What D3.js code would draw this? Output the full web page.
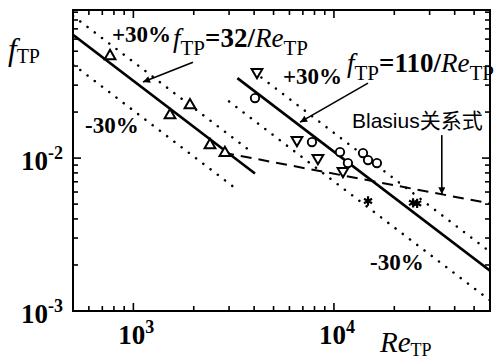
<!DOCTYPE html>
<html>
<head>
<meta charset="utf-8">
<script src="https://cdn.jsdelivr.net/npm/d3@7"></script>
<style>
body { margin: 0; background: #fff; }
svg { display: block; }
</style>
</head>
<body>
<svg id="chart"></svg>
<script>
// axes
const xDomain = [500, 60000];
const yDomain = [1e-3, 0.093];
const xMajor = [1e3, 1e4];
const xMajorExp = ['3', '4'];
const yMajor = [1e-3, 1e-2];
const yMajorExp = ['-3', '-2'];

// measured points (Re, f)
const reUp = [765, 1523, 1915, 2410, 2860];
const fUp = [0.0465, 0.0191, 0.0222, 0.01217, 0.0108];
const reDown = [4133, 6540, 8320, 11090];
const fDown = [0.0365, 0.01312, 0.0100, 0.00822];
const reCircle = [4040, 7770, 10720, 11740, 13960, 14790, 16380];
const fCircle = [0.0247, 0.01273, 0.01094, 0.00927, 0.01079, 0.00970, 0.00927];
const reStar = [14790, 24800, 26000];
const fStar = [0.00524, 0.0051, 0.00505];

// correlations f = c / Re
const fitCoef = [32, 110];
const fitRange = [[500, 4040], [3300, 60000]];
const bandFactor = [1.33, 0.64];               // upper / lower dotted lines as drawn
const bandRange = [
    [[500, 3900], [500, 3300]],
    [[4000, 60000], [3000, 60000]]
];
// Blasius f = 0.079 Re^-0.25
const blasius = [0.079, -0.25];
const blasiusRange = [2800, 60000];

class LogChart {

    constructor( config ) {
        this.config = {
            parent: config.parent,
            width: config.width || 503,
            height: config.height || 361,
            left: 73, right: 490, top: 10, bottom: 311
        };
        this.init();
    }

    init() {
        let self = this;
        const c = self.config;

        self.svg = d3.select( c.parent )
            .attr('width', c.width)
            .attr('height', c.height);

        self.x = d3.scaleLog().domain(xDomain).range([c.left, c.right]);
        self.y = d3.scaleLog().domain(yDomain).range([c.bottom, c.top]);

        self.svg.append('defs').append('clipPath').attr('id', 'plot')
            .append('rect')
            .attr('x', c.left).attr('y', c.top)
            .attr('width', c.right - c.left).attr('height', c.bottom - c.top);

        const m = self.svg.select('defs').append('marker')
            .attr('id', 'head')
            .attr('viewBox', '0 0 10 10')
            .attr('refX', 10).attr('refY', 5)
            .attr('markerWidth', 11).attr('markerHeight', 7)
            .attr('markerUnits', 'userSpaceOnUse')
            .attr('orient', 'auto');
        m.append('path').attr('d', 'M0,0 L10,5 L0,10 Z').attr('fill', '#000');

        self.chart = self.svg.append('g').attr('clip-path', 'url(#plot)');
    }

    render() {
        let self = this;
        const x = self.x, y = self.y, c = self.config;

        const line = d3.line().x(d => x(d[0])).y(d => y(d[1]));

        // dotted bands
        fitCoef.forEach((k, i) => {
            bandFactor.forEach((b, j) => {
                const r = bandRange[i][j];
                self.chart.append('path')
                    .attr('d', line(r.map(re => [re, b * k / re])))
                    .attr('fill', 'none')
                    .attr('stroke', '#000')
                    .attr('stroke-width', 2.5)
                    .attr('stroke-linecap', 'round')
                    .attr('stroke-dasharray', '0.1 9');
            });
        });

        // Blasius
        self.chart.append('path')
            .attr('d', line(blasiusRange.map(re => [re, blasius[0] * Math.pow(re, blasius[1])])))
            .attr('fill', 'none')
            .attr('stroke', '#000')
            .attr('stroke-width', 2)
            .attr('stroke-dasharray', '11 7');

        // fitted lines
        fitCoef.forEach((k, i) => {
            self.chart.append('path')
                .attr('d', line(fitRange[i].map(re => [re, k / re])))
                .attr('fill', 'none')
                .attr('stroke', '#000')
                .attr('stroke-width', 2.6);
        });

        // markers
        const tri = d3.symbol().type(d3.symbolTriangle).size(50);
        const zip = (a, b) => a.map((v, i) => [v, b[i]]);

        self.chart.selectAll('.up').data(zip(reUp, fUp)).enter()
            .append('path').attr('class', 'up')
            .attr('d', tri)
            .attr('transform', d => `translate(${x(d[0])},${y(d[1])})`)
            .attr('fill', '#fff').attr('stroke', '#000').attr('stroke-width', 2);

        self.chart.selectAll('.down').data(zip(reDown, fDown)).enter()
            .append('path').attr('class', 'down')
            .attr('d', tri)
            .attr('transform', d => `translate(${x(d[0])},${y(d[1])}) rotate(180)`)
            .attr('fill', '#fff').attr('stroke', '#000').attr('stroke-width', 2);

        self.chart.selectAll('.circ').data(zip(reCircle, fCircle)).enter()
            .append('circle').attr('class', 'circ')
            .attr('cx', d => x(d[0])).attr('cy', d => y(d[1]))
            .attr('r', 4.2)
            .attr('fill', '#fff').attr('stroke', '#000').attr('stroke-width', 1.9);

        self.chart.selectAll('.star').data(zip(reStar, fStar)).enter()
            .append('path').attr('class', 'star')
            .attr('d', d3.symbol().type(d3.symbolAsterisk).size(60))
            .attr('transform', d => `translate(${x(d[0])},${y(d[1])})`)
            .attr('fill', 'none').attr('stroke', '#000').attr('stroke-width', 2.2);

        self.renderAxes();
        self.renderText();
    }

    renderAxes() {
        let self = this;
        const x = self.x, y = self.y, c = self.config;
        const g = self.svg.append('g').attr('stroke', '#000');

        g.append('rect')
            .attr('x', c.left).attr('y', c.top)
            .attr('width', c.right - c.left).attr('height', c.bottom - c.top)
            .attr('fill', 'none').attr('stroke-width', 2);

        const minor = (dom) => {
            const out = [];
            for (let e = -4; e <= 5; e++)
                for (let k = 1; k <= 9; k++) {
                    const v = k * Math.pow(10, e);
                    if (v > dom[0] * 1.001 && v < dom[1] * 0.999) out.push([v, k === 1]);
                }
            return out;
        };

        minor(xDomain).forEach(([v, major]) => {
            const len = major ? 8 : 5;
            g.append('line').attr('x1', x(v)).attr('x2', x(v))
                .attr('y1', c.bottom).attr('y2', c.bottom - len).attr('stroke-width', 1.6);
            g.append('line').attr('x1', x(v)).attr('x2', x(v))
                .attr('y1', c.top).attr('y2', c.top + len).attr('stroke-width', 1.6);
        });
        minor(yDomain).forEach(([v, major]) => {
            const len = major ? 8 : 5;
            g.append('line').attr('y1', y(v)).attr('y2', y(v))
                .attr('x1', c.left).attr('x2', c.left + len).attr('stroke-width', 1.6);
            g.append('line').attr('y1', y(v)).attr('y2', y(v))
                .attr('x1', c.right).attr('x2', c.right - len).attr('stroke-width', 1.6);
        });

        // tick labels
        const lab = self.svg.append('g')
            .attr('font-family', '"Liberation Serif", serif')
            .attr('font-weight', 'bold');

        xMajor.forEach((v, i) => {
            const t = lab.append('text').attr('x', x(v) - 15).attr('y', c.bottom + 33)
                .attr('font-size', 27);
            t.append('tspan').text('10');
            t.append('tspan').attr('dy', -11).attr('font-size', 18).text(xMajorExp[i]);
        });
        yMajor.forEach((v, i) => {
            const t = lab.append('text').attr('x', 21).attr('y', y(v) + 12)
                .attr('font-size', 27);
            t.append('tspan').text('10');
            t.append('tspan').attr('dy', -11).attr('font-size', 18).text(yMajorExp[i]);
        });
    }

    renderText() {
        let self = this;
        const x = self.x, y = self.y;
        const serif = '"Liberation Serif", serif';

        // axis titles
        const yt = self.svg.append('text').attr('x', 8).attr('y', 60)
            .attr('font-family', serif).attr('font-size', 31);
        yt.append('tspan').attr('font-style', 'italic').text('f');
        yt.append('tspan').attr('font-size', 20).attr('dy', 3).text('TP');

        const xt = self.svg.append('text').attr('x', 380).attr('y', 352)
            .attr('font-family', serif).attr('font-size', 29);
        xt.append('tspan').attr('font-style', 'italic').text('Re');
        xt.append('tspan').attr('font-size', 18).attr('dy', 4).text('TP');

        const pct = [['+30%', 112, 42], ['-30%', 85, 133], ['+30%', 283, 84], ['-30%', 370, 270]];
        pct.forEach(p => {
            self.svg.append('text').attr('x', p[1]).attr('y', p[2])
                .attr('font-family', serif).attr('font-size', 23).attr('font-weight', 'bold')
                .text(p[0]);
        });

        const formula = (num, px, py) => {
            const t = self.svg.append('text').attr('x', px).attr('y', py)
                .attr('font-family', serif).attr('font-size', 27).attr('font-weight', 'bold');
            t.append('tspan').attr('font-style', 'italic').attr('font-weight', 'normal').text('f');
            t.append('tspan').attr('font-size', 21).attr('font-weight', 'normal').attr('dy', 8).text('TP');
            t.append('tspan').attr('dy', -8).text('=' + num + '/');
            t.append('tspan').attr('font-style', 'italic').attr('font-weight', 'normal').text('Re');
            t.append('tspan').attr('font-size', 21).attr('font-weight', 'normal').attr('dy', 8).text('TP');
        };
        formula(fitCoef[0], 173, 47);
        formula(fitCoef[1], 347, 72);

        self.svg.append('text').attr('x', 352).attr('y', 128)
            .attr('font-family', '"Liberation Sans", "Noto Sans CJK SC", sans-serif')
            .attr('font-size', 21)
            .text('Blasius关系式');

        // arrows, in data coordinates
        const arrows = [
            [[1982, 0.0424], [1117, 0.0314]],
            [[14790, 0.0309], [6780, 0.01718]],
            [[34500, 0.01413], [34500, blasius[0] * Math.pow(34500, blasius[1])]]
        ];
        arrows.forEach(a => {
            self.svg.append('line')
                .attr('x1', x(a[0][0])).attr('y1', y(a[0][1]))
                .attr('x2', x(a[1][0])).attr('y2', y(a[1][1]))
                .attr('stroke', '#000').attr('stroke-width', 1.6)
                .attr('marker-end', 'url(#head)');
        });
    }
}

let chart = new LogChart({ parent: '#chart', width: 503, height: 361 });
chart.render();
</script>
</body>
</html>
